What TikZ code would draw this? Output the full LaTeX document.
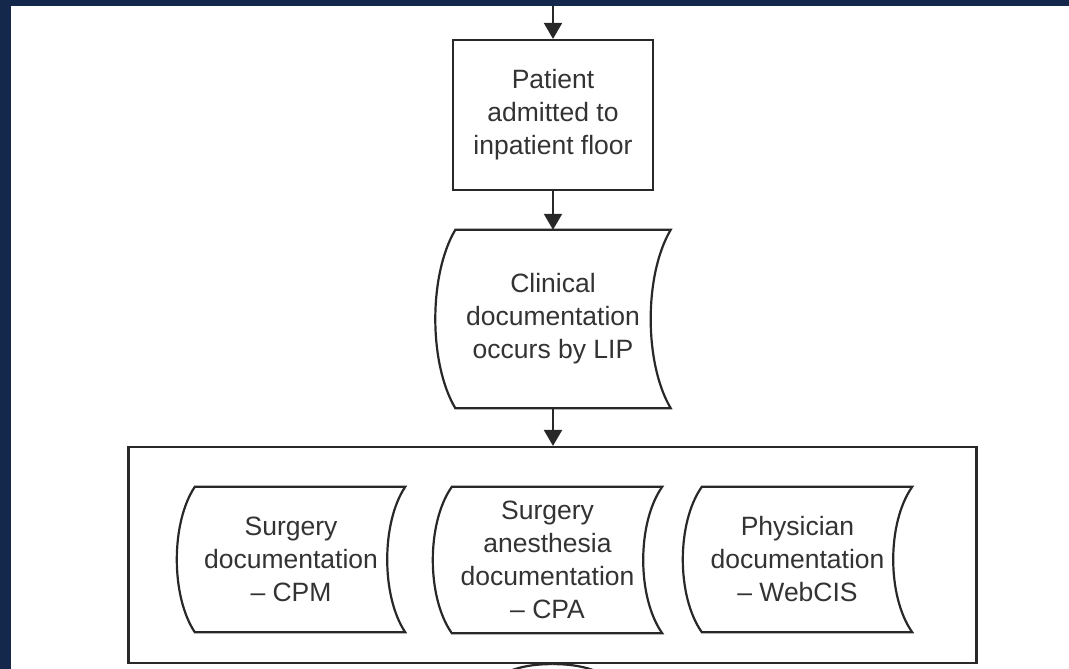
\documentclass[tikz,border=0pt]{standalone}
\usepackage{fontspec}
\setmainfont{Liberation Sans}
\usetikzlibrary{arrows.meta,calc}

\definecolor{navy}{RGB}{19,40,74}
\definecolor{ink}{RGB}{40,40,40}

% Outline of a "stored data" symbol around a node:
% #1 node name, #2 curve depth, #3 vertical offset of the curve controls
\newcommand{\storedoutline}[3]{%
  \draw[outline]
    ($(#1.north west)+(#2,0)$) -- (#1.north east)
    .. controls ($(#1.north east)+({-4/3*#2},#3)$) and ($(#1.south east)+({-4/3*#2},-#3)$) .. (#1.south east)
    -- ($(#1.south west)+(#2,0)$)
    .. controls ($(#1.south west)+({-#2/3},-#3)$) and ($(#1.north west)+({-#2/3},#3)$) .. cycle;}

\begin{document}
\begin{tikzpicture}[x=1pt,y=-1pt,
  outline/.style={draw=ink, line width=2.2pt, line join=miter},
  label/.style={font=\fontsize{26.5}{33}\selectfont, text=ink!95, align=center, inner sep=0pt},
  procbox/.style={outline, label},
  datashape/.style={label},
  flow/.style={draw=ink, line width=2.2pt, -{Triangle[width=18pt,length=16pt]}},
]
\useasboundingbox (0,0) rectangle (1069,669);
\fill[white] (0,0) rectangle (1069,669);

% process box
\node[procbox, minimum width=200pt, minimum height=150pt] (admit) at (553,115)
  {Patient\\admitted to\\inpatient floor};

% stored-data step
\node[datashape, minimum width=235pt, minimum height=178pt] (clin) at (553,319)
  {Clinical\\documentation\\occurs by LIP};
\storedoutline{clin}{20}{45}

% grouping frame
\node[outline, minimum width=848pt, minimum height=216pt] (group) at (552.5,555) {};

% documentation systems
\node[datashape, minimum width=228pt, minimum height=145pt] (cpm) at (291,559.5)
  {Surgery\\documentation\\-- CPM};
\storedoutline{cpm}{18}{36}
\node[datashape, minimum width=229pt, minimum height=146pt] (cpa) at (547.5,560)
  {Surgery\\anesthesia\\documentation\\-- CPA};
\storedoutline{cpa}{19}{36}
\node[datashape, minimum width=229pt, minimum height=145pt] (webcis) at (797.5,559.5)
  {Physician\\documentation\\-- WebCIS};
\storedoutline{webcis}{19}{36}

% connectors
\coordinate (entry) at (553,0);
\draw[flow] (entry) -- (admit.north);
\draw[flow] (admit.south) -- (clin.north);
\draw[flow] (clin.south) -- (clin.south |- group.north);

% outgoing branches below the frame
\coordinate (outL) at (488,685);
\coordinate (outR) at (618,685);
\begin{scope}
  \clip (0,0) rectangle (1069,669);
  \draw[outline] (group.south) .. controls (530,664) and (505,668) .. (outL);
  \draw[outline] (group.south) .. controls (575,664) and (600,668) .. (outR);
\end{scope}

% page frame
\fill[navy] (0,0) rectangle (1069,6.5);
\fill[navy] (0,0) rectangle (11,669);
\end{tikzpicture}
\end{document}
